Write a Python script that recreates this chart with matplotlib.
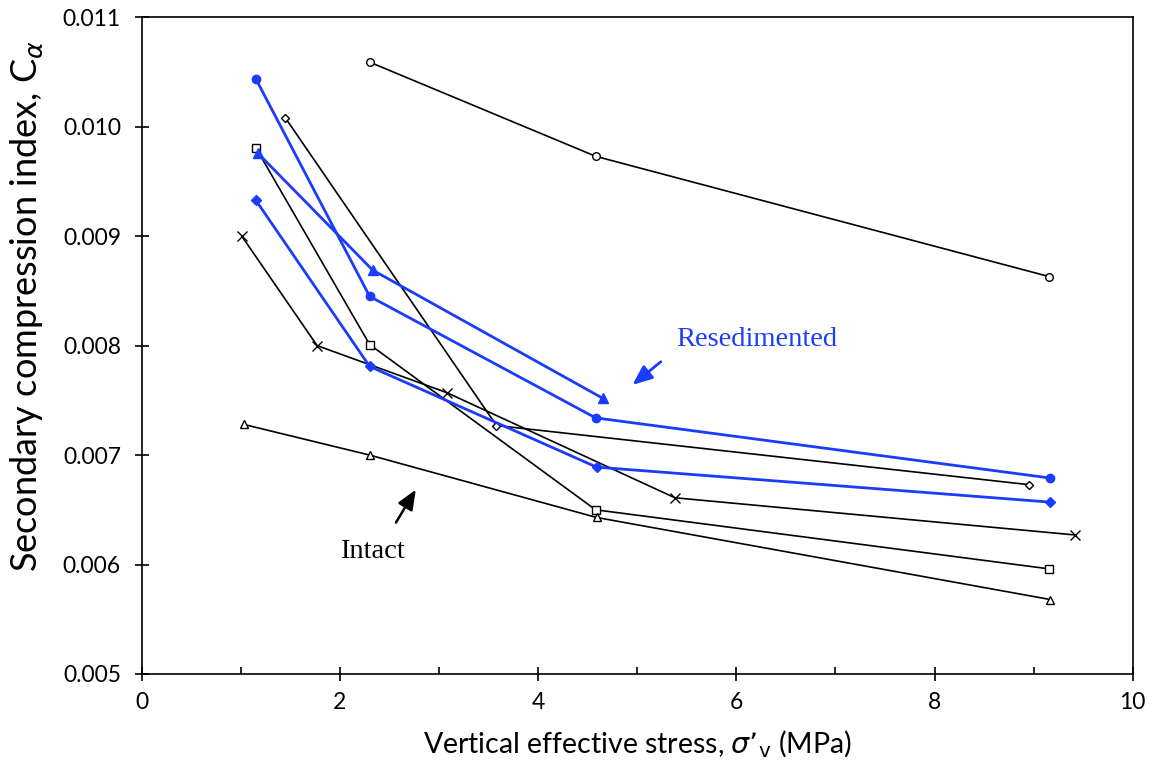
import matplotlib.pyplot as plt
from matplotlib.ticker import MultipleLocator

plt.rcParams['font.family'] = ['Lato', 'DejaVu Sans']

BLUE = '#1a3cff'

# intact samples (black, open markers)
circ_x = [2.30, 4.58, 9.16]
circ_y = [0.01059, 0.00973, 0.00863]
diam_x = [1.45, 3.58, 8.95]
diam_y = [0.01008, 0.00727, 0.00673]
sq_x = [1.15, 2.30, 4.58, 9.16]
sq_y = [0.00981, 0.00801, 0.00650, 0.00596]
cross_x = [1.01, 1.77, 3.08, 5.38, 9.42]
cross_y = [0.00900, 0.00800, 0.00757, 0.00661, 0.00627]
tri_x = [1.03, 2.30, 4.59, 9.17]
tri_y = [0.00728, 0.00700, 0.00643, 0.00568]

# resedimented samples (blue, filled markers)
rc_x = [1.15, 2.30, 4.58, 9.17]
rc_y = [0.01044, 0.00845, 0.00734, 0.00679]
rt_x = [1.17, 2.33, 4.65]
rt_y = [0.00976, 0.00869, 0.00752]
rd_x = [1.15, 2.30, 4.59, 9.17]
rd_y = [0.00933, 0.00781, 0.00689, 0.00657]

fig = plt.figure(figsize=(11.57, 7.78), dpi=100)
ax = fig.add_axes([0.1225, 0.1337, 0.8565, 0.8441])

kw = dict(color='black', lw=1.2, mfc='white', mec='black', mew=1.0)
ax.plot(circ_x, circ_y, marker='o', ms=5.5, **kw)
ax.plot(diam_x, diam_y, marker='D', ms=4.5, **kw)
ax.plot(sq_x, sq_y, marker='s', ms=5.5, **kw)
ax.plot(cross_x, cross_y, marker='x', ms=7, **kw)
ax.plot(tri_x, tri_y, marker='^', ms=6, **kw)

bkw = dict(color=BLUE, lw=2.0, mfc=BLUE, mec=BLUE)
ax.plot(rc_x, rc_y, marker='o', ms=6, **bkw)
ax.plot(rt_x, rt_y, marker='^', ms=7, **bkw)
ax.plot(rd_x, rd_y, marker='D', ms=5.5, **bkw)

# annotations
ax.annotate('', xy=(4.93, 0.007625), xytext=(5.26, 0.007869),
            arrowprops=dict(arrowstyle='-|>,head_length=0.6,head_width=0.25',
                            color=BLUE, lw=2, mutation_scale=20))
ax.text(5.39, 0.00800, 'Resedimented', color=BLUE, fontsize=20.5,
        family='Liberation Serif', va='baseline')
ax.annotate('', xy=(2.78, 0.006706), xytext=(2.55, 0.006361),
            arrowprops=dict(arrowstyle='-|>,head_length=0.6,head_width=0.25',
                            color='black', lw=1.8, mutation_scale=20))
ax.text(2.0, 0.00606, 'Intact', color='black', fontsize=20.5,
        family='Liberation Serif', va='baseline')

ax.set_xlim(0, 10)
ax.set_ylim(0.005, 0.011)
ax.xaxis.set_major_locator(MultipleLocator(2))
ax.xaxis.set_minor_locator(MultipleLocator(1))
ax.yaxis.set_major_locator(MultipleLocator(0.001))
ax.yaxis.set_major_formatter(plt.FuncFormatter(lambda v, p: '{:.3f}'.format(v)))
ax.tick_params(which='major', direction='inout', length=10, width=1.2, labelsize=16.5, pad=8)
ax.tick_params(which='minor', direction='in', length=5, width=1.2)
ax.tick_params(axis='y', pad=10)
for s in ax.spines.values():
    s.set_linewidth(1.2)

ax.set_xlabel('Vertical effective stress, $\\sigma$’$_\\mathrm{v}$ (MPa)', fontsize=20.5, labelpad=11)
ax.set_ylabel('Secondary compression index, C$_\\alpha$', fontsize=26)
ax.yaxis.set_label_coords(-0.098, 0.56)

fig.savefig('out.png', dpi=100)
